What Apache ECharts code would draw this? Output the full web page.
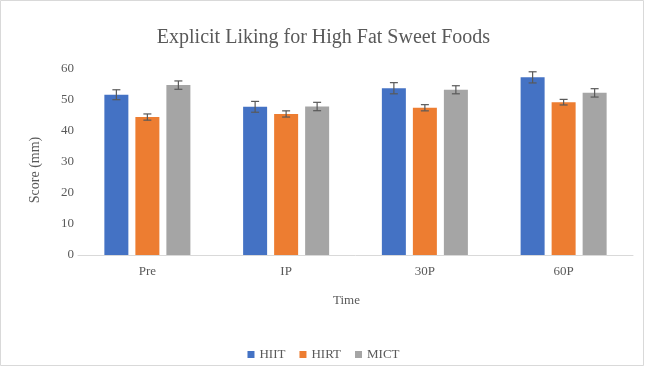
<!DOCTYPE html>
<html>
<head>
<meta charset="utf-8">
<script src="https://cdn.jsdelivr.net/npm/echarts@6/dist/echarts.min.js"></script>
<style>
  html, body { margin: 0; padding: 0; background: #fff; }
  #chart { width: 647px; height: 368px; }
</style>
</head>
<body>
<div id="chart"></div>
<script>
// Chart data
const categories = ['Pre', 'IP', '30P', '60P'];
const seriesNames = ['HIIT', 'HIRT', 'MICT'];
const hiit = [51.7, 47.8, 53.8, 57.3];
const hirt = [44.5, 45.5, 47.5, 49.3];
const mict = [54.8, 47.9, 53.3, 52.3];
const hiitErr = [1.6, 1.75, 1.8, 1.8];
const hirtErr = [1.0, 1.0, 1.0, 0.9];
const mictErr = [1.35, 1.35, 1.3, 1.35];
const yTicks = [0, 10, 20, 30, 40, 50, 60];

const colors = ['#4472C4', '#ED7D31', '#A5A5A5'];
const textColor = '#595959';
const font = 'Liberation Serif';
const barWidth = 24;
const barGapPx = 7;

const chart = echarts.init(document.getElementById('chart'));

// Builds an error bar overlay for one bar series (index k of 3)
function errorSeries(name, values, errs, k) {
  return {
    name: name + ' error',
    type: 'custom',
    z: 10,
    silent: true,
    encode: { x: 0, y: [1, 2] },
    data: values.map((v, i) => [i, v - errs[i], v + errs[i]]),
    renderItem: function (params, api) {
      const lo = api.coord([api.value(0), api.value(1)]);
      const hi = api.coord([api.value(0), api.value(2)]);
      const x = lo[0] + (k - 1) * (barWidth + barGapPx);
      const cap = 4;
      const style = { stroke: '#595959', lineWidth: 1.2 };
      return {
        type: 'group',
        children: [
          { type: 'line', shape: { x1: x, y1: lo[1], x2: x, y2: hi[1] }, style: style },
          { type: 'line', shape: { x1: x - cap, y1: lo[1], x2: x + cap, y2: lo[1] }, style: style },
          { type: 'line', shape: { x1: x - cap, y1: hi[1], x2: x + cap, y2: hi[1] }, style: style }
        ]
      };
    }
  };
}

function barSeries(name, values, color) {
  return {
    name: name,
    type: 'bar',
    barWidth: barWidth,
    barGap: (barGapPx / barWidth * 100).toFixed(1) + '%',
    itemStyle: { color: color },
    data: values
  };
}

const option = {
  animation: false,
  backgroundColor: '#fff',
  textStyle: { fontFamily: font },
  title: {
    text: 'Explicit Liking for High Fat Sweet Foods',
    left: 'center',
    top: 23,
    textStyle: { fontFamily: font, fontSize: 20, fontWeight: 'normal', color: textColor }
  },
  legend: {
    data: seriesNames,
    bottom: 2,
    left: 'center',
    icon: 'rect',
    itemWidth: 7,
    itemHeight: 7,
    itemGap: 14,
    textStyle: { fontFamily: font, fontSize: 13, color: textColor }
  },
  grid: { left: 78, right: 14, top: 69, bottom: 113 },
  xAxis: {
    type: 'category',
    data: categories,
    name: 'Time',
    nameLocation: 'middle',
    nameGap: 39,
    nameTextStyle: { fontFamily: font, fontSize: 13, color: textColor, padding: [0, 18, 0, 0] },
    axisLine: { lineStyle: { color: '#d9d9d9' } },
    axisTick: { show: false },
    axisLabel: { fontFamily: font, fontSize: 13, color: textColor, margin: 10 }
  },
  yAxis: {
    type: 'value',
    min: yTicks[0],
    max: yTicks[yTicks.length - 1],
    interval: 10,
    name: 'Score (mm)',
    nameLocation: 'middle',
    nameGap: 36,
    nameTextStyle: { fontFamily: font, fontSize: 14, color: textColor, padding: [0, 16, 0, 0] },
    axisLine: { show: false },
    axisTick: { show: false },
    splitLine: { show: false },
    axisLabel: { fontFamily: font, fontSize: 13, color: textColor, margin: 4 }
  },
  graphic: [{
    type: 'rect',
    shape: { x: 0.5, y: 0.5, width: 643, height: 365 },
    style: { fill: 'none', stroke: '#d9d9d9', lineWidth: 1 },
    silent: true
  }],
  series: [
    barSeries('HIIT', hiit, colors[0]),
    barSeries('HIRT', hirt, colors[1]),
    barSeries('MICT', mict, colors[2]),
    errorSeries('HIIT', hiit, hiitErr, 0),
    errorSeries('HIRT', hirt, hirtErr, 1),
    errorSeries('MICT', mict, mictErr, 2)
  ]
};

chart.setOption(option);
</script>
</body>
</html>
